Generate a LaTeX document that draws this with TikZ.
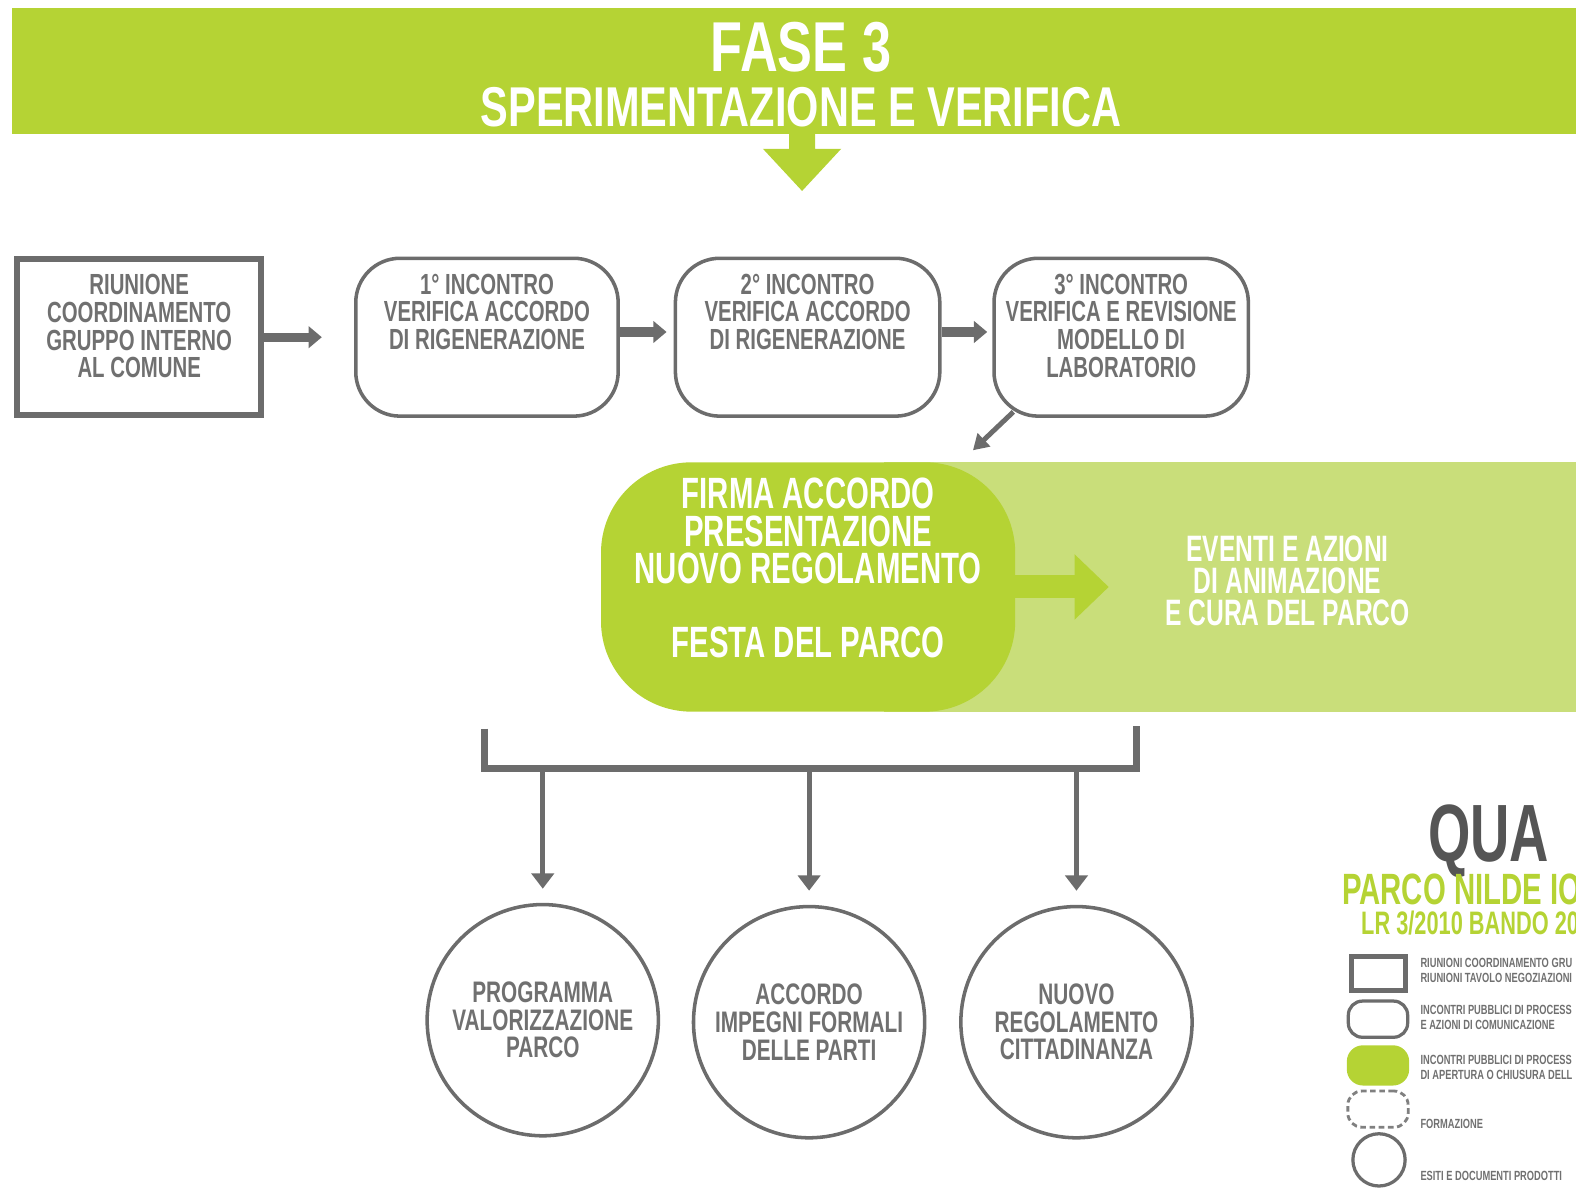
\documentclass[tikz,border=0pt]{standalone}
\usepackage{fontspec}
\setmainfont{Liberation Sans}
\newfontfamily\cndw{Liberation Sans}[FakeStretch=0.74]
\newfontfamily\cnd{Liberation Sans}[FakeStretch=0.70]
\newfontfamily\cndx{Liberation Sans}[FakeStretch=0.67]
\usetikzlibrary{arrows.meta,positioning}

\definecolor{lime}{RGB}{181,211,52}
\definecolor{limelight}{RGB}{201,222,122}
\definecolor{boxgray}{RGB}{108,108,108}
\definecolor{txtgray}{RGB}{112,112,112}
\definecolor{quagray}{RGB}{85,85,85}

\begin{document}
\begin{tikzpicture}[x=0.025cm, y=-0.025cm,
    sqbox/.style={rectangle, draw=boxgray, line width=4.3pt, minimum width=6.075cm, minimum height=3.875cm},
    rbox/.style={rectangle, rounded corners=1.1cm, draw=boxgray, line width=2.5pt, minimum height=3.925cm},
    boxtxt/.style={inner sep=0pt, align=center, text=txtgray, font=\cnd\bfseries\fontsize{20.6}{19.5}\selectfont},
    outcome/.style={circle, draw=boxgray, line width=2.5pt, minimum size=5.75cm, inner sep=0pt, align=center, text=txtgray, font=\cnd\bfseries\fontsize{21}{19.5}\selectfont},
    link/.style={boxgray, line width=6.4pt, -{Triangle[length=3.3mm, width=5.3mm]}},
    drop/.style={boxgray, line width=3.5pt, -{Triangle[length=3.8mm, width=5.5mm]}},
    bigtxt/.style={inner sep=0pt, align=center, text=white, font=\cndx\bfseries\fontsize{31}{26.3}\selectfont},
    evtxt/.style={inner sep=0pt, align=center, text=white, font=\cndx\bfseries\fontsize{26}{22.6}\selectfont},
    legbox/.style={rectangle, inner sep=0pt, draw=boxgray, line width=2.3pt},
    legtxt/.style={inner sep=0pt, anchor=west, align=left, text=txtgray, font=\cnd\bfseries\fontsize{9.4}{10.6}\selectfont}
  ]
  \useasboundingbox (0,0) rectangle (1568,1181);
  \clip (0,0) rectangle (1568,1181);

  % Header
  \fill[lime] (12,8) rectangle (1568,133);
  \node[inner sep=0pt, text=white, font=\cndw\bfseries\fontsize{50}{50}\selectfont] (fase) at (797,47) {FASE 3};
  \node[inner sep=0pt, text=white, font=\cndw\bfseries\fontsize{39.7}{40}\selectfont] (sper) at (797,107) {SPERIMENTAZIONE E VERIFICA};
  \fill[lime] (785,132) -- (785,148) -- (759,148) -- (798,190) -- (837,148) -- (811,148) -- (811,132) -- cycle;

  % Meetings
  \node[sqbox] (riun) at (138.5,335.5) {};
  \node[boxtxt, below=4.5mm of riun.north] (riuntxt) {RIUNIONE\\COORDINAMENTO\\GRUPPO INTERNO\\AL COMUNE};
  \node[rbox, minimum width=6.525cm] (inc1) at (484.5,335.5) {};
  \node[boxtxt, below=4.3mm of inc1.north] (inc1txt) {1° INCONTRO\\VERIFICA ACCORDO\\DI RIGENERAZIONE};
  \node[rbox, minimum width=6.575cm] (inc2) at (803.5,335.5) {};
  \node[boxtxt, below=4.3mm of inc2.north] (inc2txt) {2° INCONTRO\\VERIFICA ACCORDO\\DI RIGENERAZIONE};
  \node[rbox, minimum width=6.325cm] (inc3) at (1115.5,335.5) {};
  \node[boxtxt, below=4.3mm of inc3.north] (inc3txt) {3° INCONTRO\\VERIFICA E REVISIONE\\MODELLO DI\\LABORATORIO};

  \draw[link, shorten >=0.8cm] (riun.east) -- (inc1.west);
  \draw[link, shorten >=0.175cm] ([yshift=1.3mm]inc1.east) -- ([yshift=1.3mm]inc2.west);
  \draw[link, shorten >=0.125cm] ([yshift=1.3mm]inc2.east) -- ([yshift=1.3mm]inc3.west);

  % Green block
  \coordinate (firmatip) at (968,448);
  \draw[boxgray, line width=3.5pt, -{Triangle[length=3.8mm, width=4.4mm]}] ([xshift=5.25mm, yshift=1.5mm]inc3.south west) -- (firmatip);
  \fill[limelight] (880,460) rectangle (1568,708);
  \node[rectangle, rounded corners=2.25cm, fill=lime, minimum width=10.3cm, minimum height=6.2cm] (firma) at (804,584) {};
  \node[bigtxt, below=4mm of firma.north] (firmatxt) {FIRMA ACCORDO\\PRESENTAZIONE\\NUOVO REGOLAMENTO\\[26pt]FESTA DEL PARCO};
  \node[evtxt] (eventi) at (1281,578) {EVENTI E AZIONI\\DI ANIMAZIONE\\E CURA DEL PARCO};
  \draw[lime, line width=16.3pt, -{Triangle[length=8.5mm, width=15.75mm]}, shorten >=1.4cm] (firma.east) -- (firma.east -| eventi.west);

  % Bracket and outcomes
  \coordinate (brl) at (482,725);
  \coordinate (brr) at (1131,722);
  \coordinate (bar) at (0,765);
  \draw[boxgray, line width=5pt] (brl) -- ++(0,40) -| (brr);
  \node[outcome] (c1) at (540,1015) {PROGRAMMA\\VALORIZZAZIONE\\PARCO};
  \node[outcome] (c2) at (805,1017) {ACCORDO\\IMPEGNI FORMALI\\DELLE PARTI};
  \node[outcome] (c3) at (1071,1017) {NUOVO\\REGOLAMENTO\\CITTADINANZA};
  \foreach \c in {c1,c2,c3}
    \draw[drop, shorten >=0.35cm] (\c |- bar) -- (\c.north);

  % Legend
  \node[anchor=base, inner sep=0pt, text=quagray, font=\cndx\bfseries\fontsize{57.5}{57.5}\selectfont] (qua) at (1481,857) {QUA};
  \node[anchor=base west, inner sep=0pt, text=lime, font=\cndx\bfseries\fontsize{31}{31}\selectfont] (parco) at (1335,900) {PARCO NILDE IO};
  \node[anchor=base west, inner sep=0pt, text=lime, font=\cndx\bfseries\fontsize{23}{23}\selectfont] (bando) at (1354,930) {LR 3/2010 BANDO 20};

  \node[legbox, line width=3.5pt, minimum width=1.35cm, minimum height=0.85cm] (lg1) at (1371.5,968.5) {};
  \node[legbox, rounded corners=0.35cm, minimum width=1.475cm, minimum height=0.9cm] (lg2) at (1371,1014) {};
  \node[legbox, draw=none, fill=lime, rounded corners=0.4cm, minimum width=1.55cm, minimum height=1cm] (lg3) at (1371,1060) {};
  \node[legbox, draw=gray, line width=2pt, dash pattern=on 4pt off 2.5pt, rounded corners=0.35cm, minimum width=1.5cm, minimum height=0.9cm] (lg4) at (1371,1103.5) {};
  \node[legbox, circle, minimum size=1.3cm] (lg5) at (1372,1154) {};

  \node[legtxt] (lt1) at (1413,965.5) {RIUNIONI COORDINAMENTO GRU\\RIUNIONI TAVOLO NEGOZIAZIONI};
  \node[legtxt] (lt2) at (1413,1012) {INCONTRI PUBBLICI DI PROCESS\\E AZIONI DI COMUNICAZIONE};
  \node[legtxt] (lt3) at (1413,1062) {INCONTRI PUBBLICI DI PROCESS\\DI APERTURA O CHIUSURA DELL};
  \node[legtxt] (lt4) at (1413,1118) {FORMAZIONE};
  \node[legtxt] (lt5) at (1413,1170) {ESITI E DOCUMENTI PRODOTTI};
\end{tikzpicture}
\end{document}
